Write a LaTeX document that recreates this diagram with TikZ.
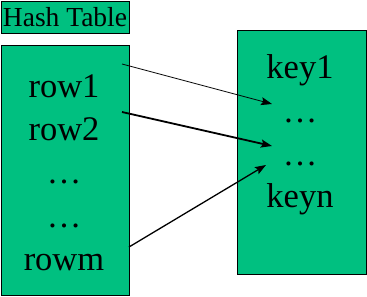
\documentclass[tikz,border=0pt]{standalone}
\usepackage{fontspec}
\setmainfont{Liberation Serif}
\newfontfamily\timesfont{Liberation Serif}
\usetikzlibrary{arrows.meta}
\definecolor{boxgreen}{RGB}{0,192,128}
\tikzset{
  box/.style={draw=black, fill=boxgreen, line width=1pt},
  bigtxt/.style={anchor=base, inner sep=0pt, font=\timesfont\fontsize{34.5}{34.5}\selectfont},
  titletxt/.style={anchor=base, inner sep=0pt, font=\timesfont\fontsize{27.5}{27.5}\selectfont},
  link/.style={-{Stealth[length=11pt,width=8pt,inset=2pt]}},
}
\begin{document}
\begin{tikzpicture}[x=1pt,y=-1pt]
\useasboundingbox (0,0) rectangle (367,297);
% boxes
\draw[box] (1,1) rectangle (129,33);
\node[titletxt] (title) at (65,26) {Hash Table};
\draw[box] (1,45) rectangle (129,295);
\draw[box] (237,30) rectangle (366,274);
% left texts
\node[bigtxt] (row1) at (64,97) {row1};
\node[bigtxt] (row2) at (64,140) {row2};
\node[bigtxt] (ld1) at (64,183) {…};
\node[bigtxt] (ld2) at (64,227) {…};
\node[bigtxt] (rowm) at (64,270) {rowm};
% right texts
\node[bigtxt] (key1) at (300,78) {key1};
\node[bigtxt] (rd1) at (300,122) {…};
\node[bigtxt] (rd2) at (300,165) {…};
\node[bigtxt] (keyn) at (300,207) {keyn};
% connector end points
\coordinate (s1) at (122,64);
\coordinate (e1) at (272,104);
\coordinate (s2) at (122,112);
\coordinate (e2) at (272,146);
\coordinate (s3) at (129,247);
\coordinate (e3) at (266,165);
\draw[link, line width=0.8pt] (s1) -- (e1);
\draw[link, line width=1.8pt] (s2) -- (e2);
\draw[link, line width=1.3pt] (s3) -- (e3);
\end{tikzpicture}
\end{document}
